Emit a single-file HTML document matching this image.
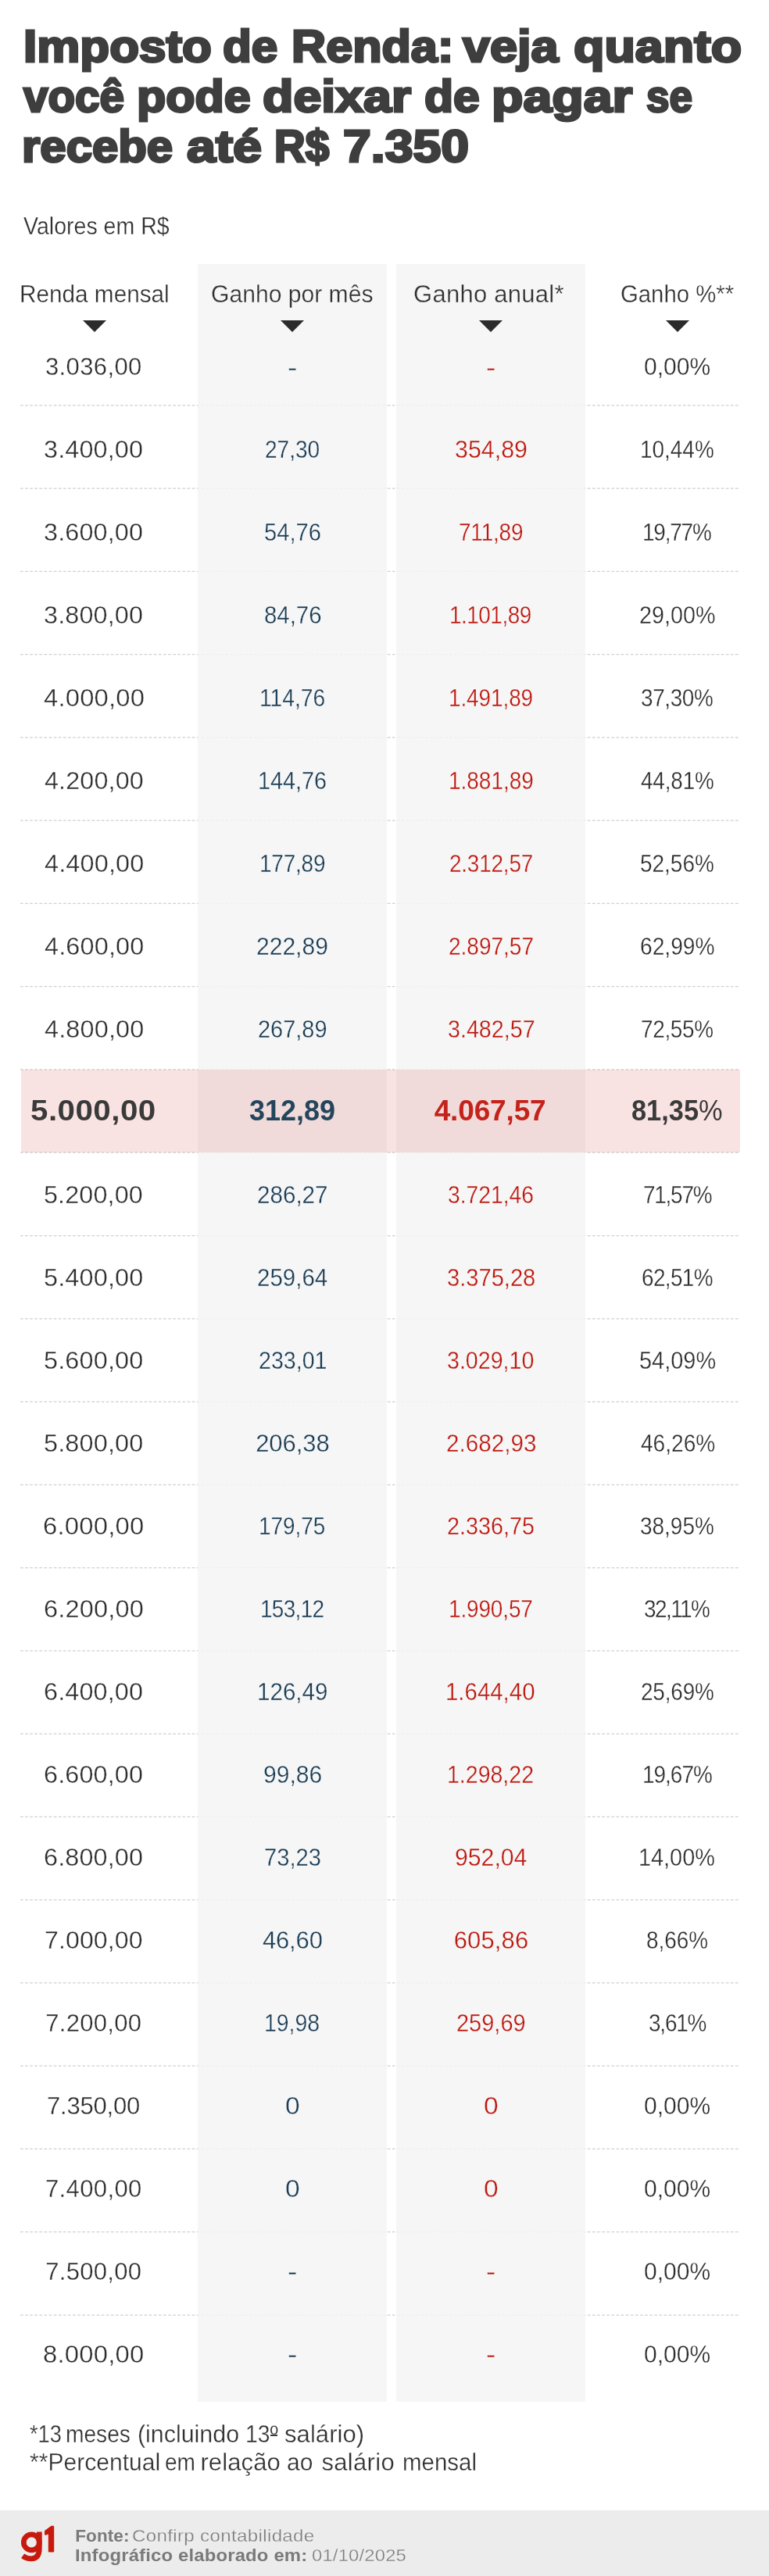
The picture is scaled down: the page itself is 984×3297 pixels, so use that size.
<!DOCTYPE html>
<html lang="pt-BR"><head><meta charset="utf-8"><title>Imposto de Renda</title>
<style>
html,body{margin:0;padding:0}
body{width:984px;height:3297px;position:relative;background:#fff;overflow:hidden;font-family:"Liberation Sans",sans-serif;color:#303030;will-change:transform}
.abs,.c,.hd,.tri{position:absolute}
h1{position:absolute;margin:0;left:0;top:0;font-size:56.6px;font-weight:bold;color:#3e3e3e;white-space:nowrap;line-height:63px;-webkit-text-stroke:2.9px #3e3e3e;paint-order:stroke fill}
h1 span{position:absolute;display:block;transform-origin:0 50%}
.sub{font-size:31px;white-space:nowrap;line-height:35px}
.col{background:rgba(244.6,244.6,244.6,0.87);top:337.6px;height:2736.8px}
.hd{font-size:31px;white-space:nowrap;line-height:35px;color:#303030}
.tri{width:0;height:0;border-left:15px solid transparent;border-right:15px solid transparent;border-top:15px solid #2b2b2b}
.c{font-size:31px;line-height:35px;white-space:nowrap}
.c1{color:#2e2e2e}.c2{color:#1a3c54}.c3{color:#bd180f}.c4{color:#2e2e2e}
.ew{-webkit-text-stroke:0.3px #fff}.eg{-webkit-text-stroke:0.3px #f6f6f6}.ef{-webkit-text-stroke:0.3px #ececec}
.hl{left:27.3px;width:919.4px;background:rgba(205,40,30,0.13)}
.b{font-weight:bold;font-size:37px;line-height:41px}
.b.c1,.b.c4{color:#3a3a3a}.b.c2{color:#24465c}.b.c3{color:#c4231b}
.b i{font-weight:normal;font-style:normal}
.c,.hd,.sub,.fn,.ft{transform-origin:0 50%}
.fn{font-size:31px;white-space:nowrap;line-height:35px}
.foot{left:0;top:3212.5px;width:984px;height:85px;background:#ececec}
.ft{font-size:22.5px;color:#7c7c7c;white-space:nowrap;line-height:25px}
.ft b{color:#7a7a7a}
</style></head>
<body>
<h1><span style="left:30.20px;top:27.80px;transform:scaleX(1.0948)">Imposto</span><span style="left:285.11px;top:27.80px;transform:scaleX(1.0646)">de</span><span style="left:372.73px;top:27.80px;transform:scaleX(1.0805)">Renda:</span><span style="left:592.11px;top:27.80px;transform:scaleX(1.1121)">veja</span><span style="left:733.57px;top:27.80px;transform:scaleX(1.1403)">quanto</span>
<span style="left:30.45px;top:91.90px;transform:scaleX(1.0006)">você</span><span style="left:174.83px;top:91.90px;transform:scaleX(1.0778)">pode</span><span style="left:335.97px;top:91.90px;transform:scaleX(1.1401)">deixar</span><span style="left:543.11px;top:91.90px;transform:scaleX(1.0723)">de</span><span style="left:629.39px;top:91.90px;transform:scaleX(1.1702)">pagar</span><span style="left:827.22px;top:91.90px;transform:scaleX(0.9373)">se</span>
<span style="left:28.16px;top:156.00px;transform:scaleX(1.0585)">recebe</span><span style="left:238.83px;top:156.00px;transform:scaleX(1.1749)">até</span><span style="left:351.19px;top:156.00px;transform:scaleX(0.9712)">R$</span><span style="left:439.27px;top:156.00px;transform:scaleX(1.1365)">7.350</span>
</h1>
<div class="abs sub ew" style="left:30.20px;transform:scaleX(0.921);top:272.30px">Valores em R$</div>
<svg class="abs" style="left:0;top:0" width="984" height="3000" viewBox="0 0 984 3000"><g stroke="#d0d0d0" stroke-width="1.25" stroke-dasharray="3.7 2.4" fill="none"><path d="M26 518.80H945"/><path d="M26 625.07H945"/><path d="M26 731.34H945"/><path d="M26 837.61H945"/><path d="M26 943.88H945"/><path d="M26 1050.15H945"/><path d="M26 1156.42H945"/><path d="M26 1262.69H945"/><path d="M26 1368.96H945"/><path d="M26 1475.23H945"/><path d="M26 1581.50H945"/><path d="M26 1687.77H945"/><path d="M26 1794.04H945"/><path d="M26 1900.31H945"/><path d="M26 2006.58H945"/><path d="M26 2112.85H945"/><path d="M26 2219.12H945"/><path d="M26 2325.39H945"/><path d="M26 2431.66H945"/><path d="M26 2537.93H945"/><path d="M26 2644.20H945"/><path d="M26 2750.47H945"/><path d="M26 2856.74H945"/><path d="M26 2963.01H945"/></g></svg>
<div class="abs col" style="left:253.4px;width:242px"></div><div class="abs col" style="left:507.4px;width:241.7px"></div>
<div class="abs hl" style="top:1368.8px;height:106.0px"></div>
<div class="hd ew" style="left:25.08px;transform:scaleX(0.959);top:359.00px">Renda mensal</div><div class="tri" style="left:105.5px;top:409.8px"></div>
<div class="hd eg" style="left:270.03px;transform:scaleX(0.971);top:359.00px">Ganho por mês</div><div class="tri" style="left:359.2px;top:409.8px"></div>
<div class="hd eg" style="left:529.00px;letter-spacing:0.27px;top:359.00px">Ganho anual*</div><div class="tri" style="left:613.3px;top:409.8px"></div>
<div class="hd ew" style="left:793.55px;transform:scaleX(0.946);top:359.00px">Ganho %**</div><div class="tri" style="left:852.0px;top:409.8px"></div>
<div class="c c1 ew" style="left:57.95px;letter-spacing:0.38px;top:452.00px">3.036,00</div><div class="c c2 eg" style="left:368.30px;transform:scaleX(1.200);top:452.70px">-</div><div class="c c3 eg" style="left:622.30px;transform:scaleX(1.200);top:452.70px">-</div><div class="c c4 ew" style="left:824.18px;transform:scaleX(0.969);top:452.00px">0,00%</div>
<div class="c c1 ew" style="left:56.11px;letter-spacing:0.17px;transform:scaleX(1.042);top:557.98px">3.400,00</div><div class="c c2 eg" style="left:338.84px;transform:scaleX(0.905);top:557.98px">27,30</div><div class="c c3 eg" style="left:581.97px;transform:scaleX(0.980);top:557.98px">354,89</div><div class="c c4 ew" style="left:819.00px;transform:scaleX(0.901);top:557.98px">10,44%</div>
<div class="c c1 ew" style="left:56.11px;letter-spacing:0.17px;transform:scaleX(1.042);top:663.96px">3.600,00</div><div class="c c2 eg" style="left:337.96px;transform:scaleX(0.940);top:663.96px">54,76</div><div class="c c3 eg" style="left:587.15px;letter-spacing:-0.17px;transform:scaleX(0.900);top:663.96px">711,89</div><div class="c c4 ew" style="left:822.00px;letter-spacing:-1.32px;transform:scaleX(0.900);top:663.96px">19,77%</div>
<div class="c c1 ew" style="left:56.11px;letter-spacing:0.17px;transform:scaleX(1.042);top:769.94px">3.800,00</div><div class="c c2 eg" style="left:337.65px;transform:scaleX(0.948);top:769.94px">84,76</div><div class="c c3 eg" style="left:575.35px;letter-spacing:-0.54px;transform:scaleX(0.900);top:769.94px">1.101,89</div><div class="c c4 ew" style="left:818.07px;transform:scaleX(0.927);top:769.94px">29,00%</div>
<div class="c c1 ew" style="left:55.65px;letter-spacing:0.22px;transform:scaleX(1.055);top:875.92px">4.000,00</div><div class="c c2 eg" style="left:331.88px;transform:scaleX(0.910);top:875.92px">114,76</div><div class="c c3 eg" style="left:573.90px;letter-spacing:-0.08px;transform:scaleX(0.900);top:875.92px">1.491,89</div><div class="c c4 ew" style="left:820.40px;letter-spacing:-0.40px;transform:scaleX(0.900);top:875.92px">37,30%</div>
<div class="c c1 ew" style="left:56.80px;letter-spacing:0.16px;transform:scaleX(1.040);top:981.90px">4.200,00</div><div class="c c2 eg" style="left:329.89px;transform:scaleX(0.929);top:981.90px">144,76</div><div class="c c3 eg" style="left:573.55px;transform:scaleX(0.902);top:981.90px">1.881,89</div><div class="c c4 ew" style="left:820.30px;letter-spacing:-0.16px;transform:scaleX(0.900);top:981.90px">44,81%</div>
<div class="c c1 ew" style="left:56.50px;letter-spacing:0.18px;transform:scaleX(1.044);top:1087.88px">4.400,00</div><div class="c c2 eg" style="left:331.75px;letter-spacing:-0.20px;transform:scaleX(0.900);top:1087.88px">177,89</div><div class="c c3 eg" style="left:574.80px;letter-spacing:-0.22px;transform:scaleX(0.900);top:1087.88px">2.312,57</div><div class="c c4 ew" style="left:819.40px;transform:scaleX(0.902);top:1087.88px">52,56%</div>
<div class="c c1 ew" style="left:56.50px;letter-spacing:0.18px;transform:scaleX(1.044);top:1193.86px">4.600,00</div><div class="c c2 eg" style="left:328.48px;transform:scaleX(0.969);top:1193.86px">222,89</div><div class="c c3 eg" style="left:573.95px;transform:scaleX(0.903);top:1193.86px">2.897,57</div><div class="c c4 ew" style="left:819.09px;transform:scaleX(0.908);top:1193.86px">62,99%</div>
<div class="c c1 ew" style="left:56.50px;letter-spacing:0.18px;transform:scaleX(1.044);top:1299.84px">4.800,00</div><div class="c c2 eg" style="left:330.17px;transform:scaleX(0.933);top:1299.84px">267,89</div><div class="c c3 eg" style="left:572.63px;transform:scaleX(0.925);top:1299.84px">3.482,57</div><div class="c c4 ew" style="left:820.25px;letter-spacing:-0.34px;transform:scaleX(0.900);top:1299.84px">72,55%</div>
<div class="c c1 b" style="left:39.46px;letter-spacing:0.42px;transform:scaleX(1.090);top:1401.00px">5.000,00</div><div class="c c2 b" style="left:318.80px;transform:scaleX(0.973);top:1401.00px">312,89</div><div class="c c3 b" style="left:555.70px;letter-spacing:-0.15px;top:1401.00px">4.067,57</div><div class="c c4 b" style="left:808.47px;transform:scaleX(0.929);top:1401.00px">81,35<i>%</i></div>
<div class="c c1 ew" style="left:56.26px;letter-spacing:0.16px;transform:scaleX(1.040);top:1511.80px">5.200,00</div><div class="c c2 eg" style="left:329.15px;transform:scaleX(0.955);top:1511.80px">286,27</div><div class="c c3 eg" style="left:573.44px;transform:scaleX(0.911);top:1511.80px">3.721,46</div><div class="c c4 ew" style="left:822.55px;letter-spacing:-1.36px;transform:scaleX(0.900);top:1511.80px">71,57%</div>
<div class="c c1 ew" style="left:55.96px;letter-spacing:0.18px;transform:scaleX(1.044);top:1617.78px">5.400,00</div><div class="c c2 eg" style="left:328.85px;transform:scaleX(0.951);top:1617.78px">259,64</div><div class="c c3 eg" style="left:571.76px;transform:scaleX(0.939);top:1617.78px">3.375,28</div><div class="c c4 ew" style="left:821.05px;letter-spacing:-0.69px;transform:scaleX(0.900);top:1617.78px">62,51%</div>
<div class="c c1 ew" style="left:55.96px;letter-spacing:0.18px;transform:scaleX(1.044);top:1723.76px">5.600,00</div><div class="c c2 eg" style="left:330.68px;transform:scaleX(0.922);top:1723.76px">233,01</div><div class="c c3 eg" style="left:572.28px;transform:scaleX(0.923);top:1723.76px">3.029,10</div><div class="c c4 ew" style="left:817.72px;transform:scaleX(0.934);top:1723.76px">54,09%</div>
<div class="c c1 ew" style="left:55.96px;letter-spacing:0.18px;transform:scaleX(1.044);top:1829.74px">5.800,00</div><div class="c c2 eg" style="left:327.15px;letter-spacing:-0.06px;top:1829.74px">206,38</div><div class="c c3 eg" style="left:570.74px;transform:scaleX(0.956);top:1829.74px">2.682,93</div><div class="c c4 ew" style="left:819.65px;transform:scaleX(0.906);top:1829.74px">46,26%</div>
<div class="c c1 ew" style="left:54.94px;letter-spacing:0.23px;transform:scaleX(1.057);top:1935.72px">6.000,00</div><div class="c c2 eg" style="left:331.30px;transform:scaleX(0.900);top:1935.72px">179,75</div><div class="c c3 eg" style="left:572.42px;transform:scaleX(0.928);top:1935.72px">2.336,75</div><div class="c c4 ew" style="left:819.40px;transform:scaleX(0.902);top:1935.72px">38,95%</div>
<div class="c c1 ew" style="left:55.75px;letter-spacing:0.19px;transform:scaleX(1.047);top:2041.70px">6.200,00</div><div class="c c2 eg" style="left:332.95px;letter-spacing:-0.74px;transform:scaleX(0.900);top:2041.70px">153,12</div><div class="c c3 eg" style="left:574.05px;letter-spacing:-0.12px;transform:scaleX(0.900);top:2041.70px">1.990,57</div><div class="c c4 ew" style="left:824.35px;letter-spacing:-1.70px;transform:scaleX(0.900);top:2041.70px">32,11%</div>
<div class="c c1 ew" style="left:56.11px;letter-spacing:0.17px;transform:scaleX(1.042);top:2147.68px">6.400,00</div><div class="c c2 eg" style="left:328.69px;transform:scaleX(0.954);top:2147.68px">126,49</div><div class="c c3 eg" style="left:570.20px;transform:scaleX(0.949);top:2147.68px">1.644,40</div><div class="c c4 ew" style="left:819.85px;letter-spacing:-0.16px;transform:scaleX(0.900);top:2147.68px">25,69%</div>
<div class="c c1 ew" style="left:56.11px;letter-spacing:0.17px;transform:scaleX(1.042);top:2253.66px">6.600,00</div><div class="c c2 eg" style="left:336.83px;transform:scaleX(0.969);top:2253.66px">99,86</div><div class="c c3 eg" style="left:572.46px;transform:scaleX(0.920);top:2253.66px">1.298,22</div><div class="c c4 ew" style="left:821.50px;letter-spacing:-1.09px;transform:scaleX(0.900);top:2253.66px">19,67%</div>
<div class="c c1 ew" style="left:56.11px;letter-spacing:0.17px;transform:scaleX(1.042);top:2359.64px">6.800,00</div><div class="c c2 eg" style="left:337.96px;transform:scaleX(0.940);top:2359.64px">73,23</div><div class="c c3 eg" style="left:581.78px;transform:scaleX(0.974);top:2359.64px">952,04</div><div class="c c4 ew" style="left:817.39px;transform:scaleX(0.931);top:2359.64px">14,00%</div>
<div class="c c1 ew" style="left:56.87px;letter-spacing:0.13px;transform:scaleX(1.032);top:2465.62px">7.000,00</div><div class="c c2 eg" style="left:335.95px;letter-spacing:-0.16px;top:2465.62px">46,60</div><div class="c c3 eg" style="left:580.65px;letter-spacing:0.14px;top:2465.62px">605,86</div><div class="c c4 ew" style="left:827.20px;transform:scaleX(0.901);top:2465.62px">8,66%</div>
<div class="c c1 ew" style="left:58.15px;letter-spacing:0.32px;top:2571.60px">7.200,00</div><div class="c c2 eg" style="left:338.37px;transform:scaleX(0.917);top:2571.60px">19,98</div><div class="c c3 eg" style="left:584.06px;transform:scaleX(0.935);top:2571.60px">259,69</div><div class="c c4 ew" style="left:829.60px;letter-spacing:-1.31px;transform:scaleX(0.900);top:2571.60px">3,61%</div>
<div class="c c1 ew" style="left:60.00px;letter-spacing:-0.20px;top:2677.58px">7.350,00</div><div class="c c2 eg" style="left:364.57px;transform:scaleX(1.081);top:2677.58px">0</div><div class="c c3 eg" style="left:618.57px;transform:scaleX(1.081);top:2677.58px">0</div><div class="c c4 ew" style="left:824.18px;transform:scaleX(0.969);top:2677.58px">0,00%</div>
<div class="c c1 ew" style="left:58.00px;letter-spacing:0.37px;top:2783.56px">7.400,00</div><div class="c c2 eg" style="left:364.57px;transform:scaleX(1.081);top:2783.56px">0</div><div class="c c3 eg" style="left:618.57px;transform:scaleX(1.081);top:2783.56px">0</div><div class="c c4 ew" style="left:824.18px;transform:scaleX(0.969);top:2783.56px">0,00%</div>
<div class="c c1 ew" style="left:58.15px;letter-spacing:0.32px;top:2889.54px">7.500,00</div><div class="c c2 eg" style="left:368.30px;transform:scaleX(1.200);top:2890.24px">-</div><div class="c c3 eg" style="left:622.30px;transform:scaleX(1.200);top:2890.24px">-</div><div class="c c4 ew" style="left:824.18px;transform:scaleX(0.969);top:2889.54px">0,00%</div>
<div class="c c1 ew" style="left:54.99px;letter-spacing:0.23px;transform:scaleX(1.057);top:2995.52px">8.000,00</div><div class="c c2 eg" style="left:368.30px;transform:scaleX(1.200);top:2996.22px">-</div><div class="c c3 eg" style="left:622.30px;transform:scaleX(1.200);top:2996.22px">-</div><div class="c c4 ew" style="left:824.18px;transform:scaleX(0.969);top:2995.52px">0,00%</div>
<div class="abs fn ew" style="left:37.80px;transform:scaleX(0.878);top:3098.20px">*13</div><div class="abs fn ew" style="left:84.08px;transform:scaleX(0.908);top:3098.20px">meses</div><div class="abs fn ew" style="left:176.32px;transform:scaleX(0.980);top:3098.20px">(incluindo</div><div class="abs fn ew" style="left:313.78px;transform:scaleX(0.911);top:3098.20px">13º</div><div class="abs fn ew" style="left:364.00px;letter-spacing:0.07px;top:3098.20px">salário)</div>
<div class="abs fn ew" style="left:37.80px;transform:scaleX(0.970);top:3133.80px">**Percentual</div><div class="abs fn ew" style="left:210.70px;transform:scaleX(0.905);top:3133.80px">em</div><div class="abs fn ew" style="left:256.40px;letter-spacing:0.11px;top:3133.80px">relação</div><div class="abs fn ew" style="left:367.03px;transform:scaleX(0.968);top:3133.80px">ao</div><div class="abs fn ew" style="left:411.40px;letter-spacing:0.32px;top:3133.80px">salário</div><div class="abs fn ew" style="left:514.90px;transform:scaleX(0.950);top:3133.80px">mensal</div>
<div class="abs" style="left:345.6px;top:3116px;width:9.2px;height:1.6px;background:#3a3a3a"></div>
<div class="abs foot"></div>
<svg class="abs" style="left:20px;top:3225px" width="60" height="60" viewBox="20 3225 60 60">
<circle cx="40.3" cy="3253.9" r="10" fill="none" stroke="#c8190d" stroke-width="6.7"/>
<path d="M50.3 3240.5 V3261 C50.3 3270.5 46.5 3274.9 40 3274.9 C35.5 3274.9 32 3273.4 29.1 3271.2" fill="none" stroke="#c8190d" stroke-width="6.8"/>
<path d="M68.1 3233.9 H65.9 L58.1 3239.7 V3243.7 L62.9 3242 V3265.4 H68.1 Z" fill="#c8190d" stroke="#c8190d" stroke-width="2.2" stroke-linejoin="round"/>
</svg>
<div class="abs ft" style="left:96.20px;letter-spacing:0.11px;top:3232.80px"><b>Fonte:</b></div>
<div class="abs ft ef" style="left:169.33px;letter-spacing:0.33px;transform:scaleX(1.070);top:3232.80px"><span>Confirp contabilidade</span></div>
<div class="abs ft" style="left:95.94px;letter-spacing:0.16px;transform:scaleX(1.061);top:3258.40px"><b>Infográfico elaborado em:</b></div>
<div class="abs ft ef" style="left:399.00px;letter-spacing:0.17px;transform:scaleX(1.059);top:3258.40px"><span>01/10/2025</span></div>
</body></html>
